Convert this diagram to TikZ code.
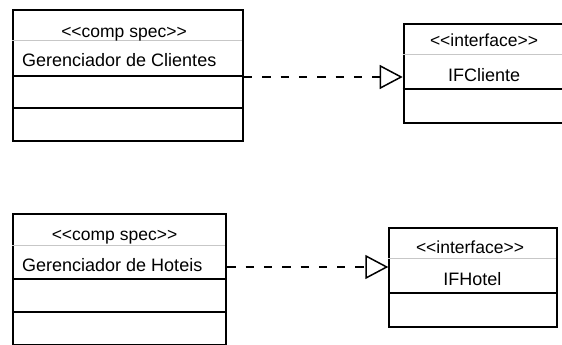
\documentclass[tikz,border=0pt]{standalone}
\usepackage{fontspec}
\setmainfont{Liberation Sans}[Ligatures=TeXOff]
\usetikzlibrary{arrows.meta}
\begin{document}
\begin{tikzpicture}[x=1pt,y=-1pt,
  box/.style={draw=black, line width=2pt, rectangle, inner sep=0pt},
  sep/.style={line width=2pt, draw=black},
  light/.style={line width=0.8pt, draw=black!22},
  stereo/.style={inner sep=0pt, anchor=base, font=\fontsize{17.5}{20}\selectfont},
  nm/.style={inner sep=0pt, font=\fontsize{18}{20}\selectfont},
  realize/.style={line width=1.5pt, dash pattern=on 8.3pt off 10pt,
    -{Triangle[open, length=23pt, width=24pt, line width=1.5pt]}}
]
\useasboundingbox (0,0) rectangle (562,345);
\clip (0,0) rectangle (562,345);

% box 1
\node[box, minimum width=230pt, minimum height=131pt, anchor=north west] (c1) at (12,9) {};
\draw[light] (12,40.7) -- (242,40.7);
\draw[sep] (12,76) -- (242,76);
\draw[sep] (12,107.7) -- (242,107.7);
\node[stereo] (s1) at (124,38) {<<comp spec>>};
\node[nm, anchor=base west] (n1) at (22,66.5) {Gerenciador de Clientes};

% box 2
\node[box, minimum width=164pt, minimum height=98.4pt, anchor=north west] (c2) at (402.7,23.3) {};
\draw[light] (402.7,54.3) -- (567,54.3);
\draw[sep] (402.7,88.8) -- (567,88.8);
\node[stereo] (s2) at (484,46.7) {<<interface>>};
\node[nm, anchor=base] (n2) at (484.2,81.7) {IFCliente};

% box 3
\node[box, minimum width=213.3pt, minimum height=130.4pt, anchor=north west] (c3) at (12,213.3) {};
\draw[light] (12,245.7) -- (225.3,245.7);
\draw[sep] (12,279.3) -- (225.3,279.3);
\draw[sep] (12,311.7) -- (225.3,311.7);
\node[stereo] (s3) at (114.5,240) {<<comp spec>>};
\node[nm, anchor=base west] (n3) at (22,271.7) {Gerenciador de Hoteis};

% box 4
\node[box, minimum width=167.4pt, minimum height=98.5pt, anchor=north west] (c4) at (388.3,227.3) {};
\draw[light] (388.3,258.6) -- (555.7,258.6);
\draw[sep] (388.3,293) -- (555.7,293);
\node[stereo] (s4) at (470,253.3) {<<interface>>};
\node[nm, anchor=base] (n4) at (472.3,285) {IFHotel};

% connectors
\coordinate (a1) at (c1.east |- 0,77);
\coordinate (b1) at (c2.west |- 0,77);
\coordinate (a2) at (c3.east |- 0,267);
\coordinate (b2) at (c4.west |- 0,267);
\draw[realize] (a1) -- (b1);
\draw[realize] (a2) -- (b2);
\end{tikzpicture}
\end{document}
